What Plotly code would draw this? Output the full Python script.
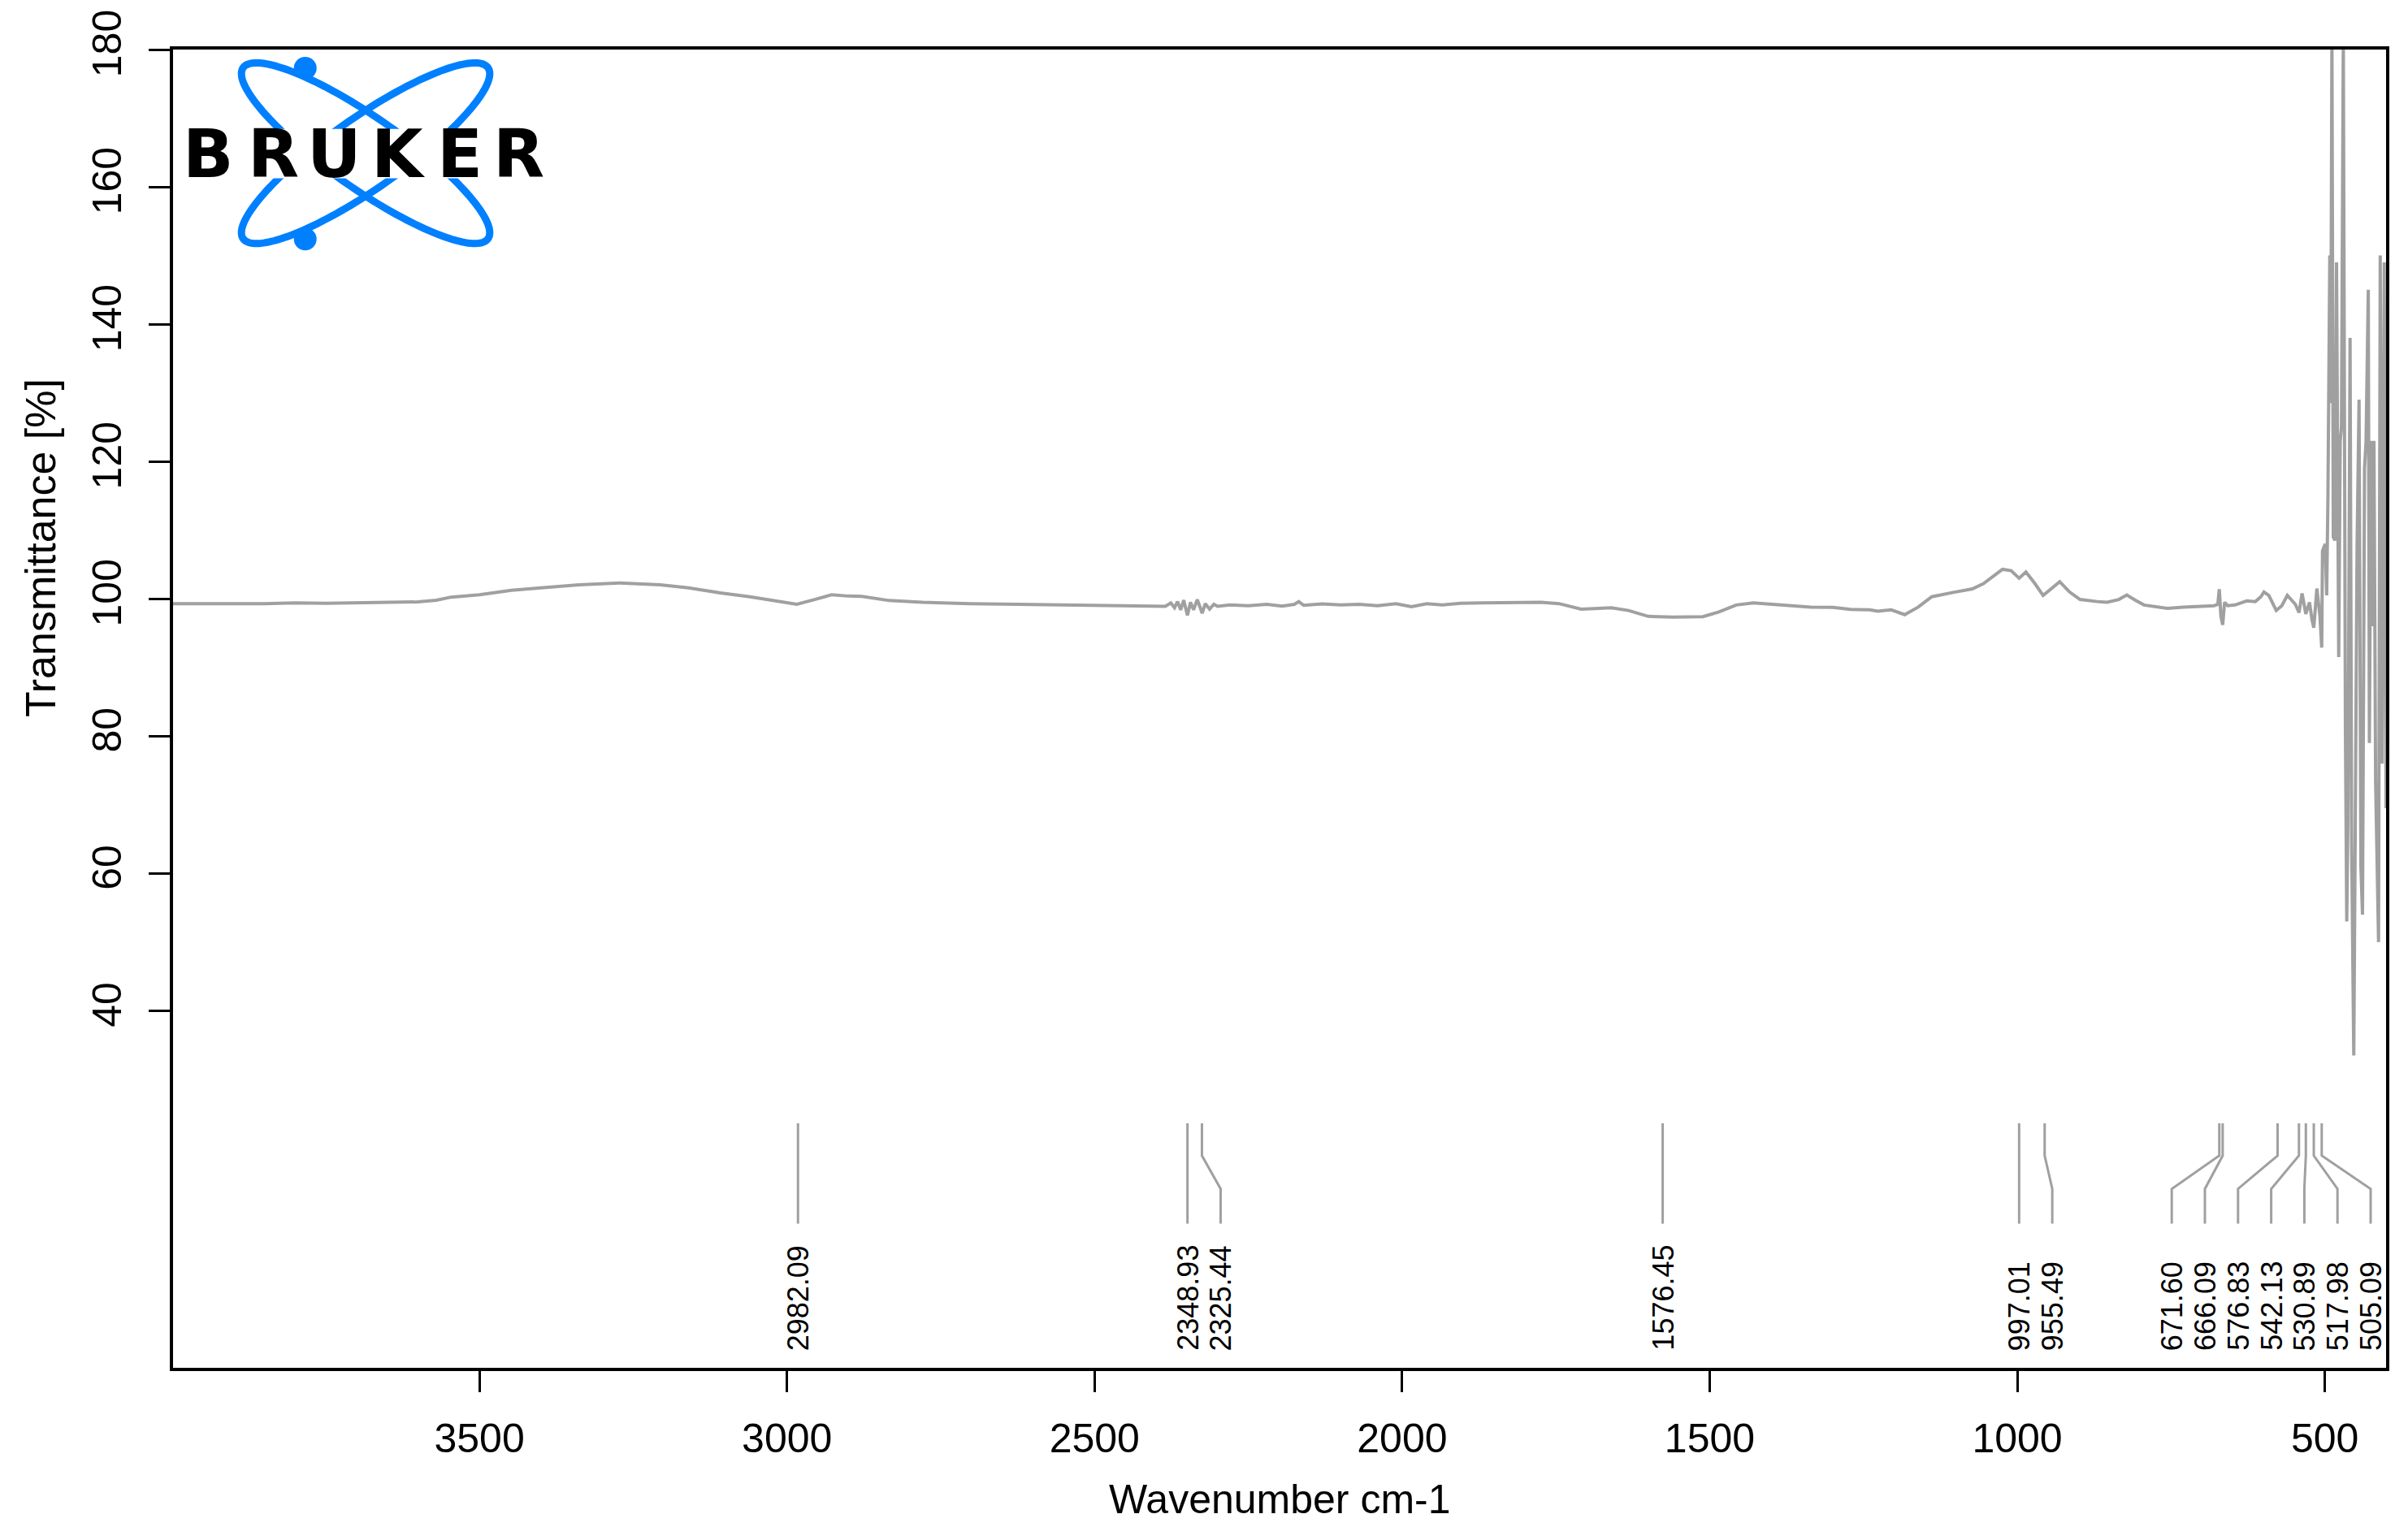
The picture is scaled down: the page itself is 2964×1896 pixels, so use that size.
import numpy as np
import plotly.graph_objects as go

# ---------------- data ----------------
wavenumber = [
    3998, 3950, 3900, 3850, 3800, 3750, 3700, 3650, 3600, 3570, 3546, 3500, 3448, 3400,
    3338, 3272, 3206, 3160, 3108, 3060, 3031, 2984, 2955, 2927, 2900, 2878, 2834, 2780,
    2703, 2600, 2484, 2400, 2385, 2376, 2370, 2365, 2360, 2355, 2349, 2344, 2339, 2333,
    2328, 2325, 2320, 2313, 2306, 2300, 2280, 2250, 2220, 2195, 2175, 2168, 2160, 2130,
    2100, 2070, 2040, 2010, 1985, 1960, 1935, 1905, 1870, 1840, 1800, 1774, 1745, 1709,
    1680, 1660, 1632, 1600, 1560, 1511, 1485, 1457, 1429, 1390, 1336, 1300, 1271, 1240,
    1227, 1205, 1195, 1183, 1161, 1139, 1106, 1073, 1055, 1040, 1024, 1010, 997, 986,
    972, 958, 945, 931, 915, 898, 870, 854, 835, 822, 808, 794, 756, 730, 701, 680,
    674, 671.6, 669, 666.1, 663, 658, 646, 627, 613, 604, 599, 591, 579, 570, 561, 552,
    548, 542, 537, 531, 525, 521, 518, 513, 508, 505.1, 503.8, 499.5, 497, 495, 492,
    490.5, 488.5, 486.3, 483.5, 481, 479.7, 477.5, 475, 473, 470, 468.5, 466.6, 464.4,
    462.5, 459, 456.4, 453, 451, 447.6, 444.4, 441.4, 438.8, 435.5, 433, 429.4, 427.6,
    425, 422.5, 420.2, 417.5, 415, 412.7, 410, 407, 403.4, 400.5,
]
transmittance = [
    99.3, 99.25, 99.3, 99.3, 99.4, 99.35, 99.4, 99.5, 99.55, 99.8, 100.25, 100.6, 101.25, 101.6,
    102.05, 102.3, 102.05, 101.6, 100.85, 100.3, 99.9, 99.2, 99.9, 100.6, 100.4, 100.35, 99.75, 99.5,
    99.3, 99.15, 99.05, 98.95, 98.9, 99.4, 98.7, 99.6, 98.4, 99.8, 97.6, 99.5, 98.4, 99.9,
    98.8, 97.9, 99.3, 98.5, 99.2, 98.9, 99.1, 99.0, 99.2, 98.95, 99.2, 99.6, 99.05, 99.25,
    99.1, 99.2, 99.0, 99.3, 98.85, 99.3, 99.1, 99.35, 99.4, 99.45, 99.5, 99.5, 99.3, 98.5,
    98.6, 98.7, 98.3, 97.45, 97.35, 97.4, 98.1, 99.1, 99.4, 99.1, 98.8, 98.75, 98.45, 98.4,
    98.2, 98.4, 98.1, 97.7, 98.8, 100.3, 100.9, 101.45, 102.2, 103.2, 104.3, 104.1, 103.0, 103.9,
    102.3, 100.5, 101.4, 102.5, 101.0, 99.9, 99.6, 99.5, 99.9, 100.55, 99.8, 99.1, 98.6, 98.8, 98.9, 99.0,
    99.2, 101.4, 97.5, 96.2, 99.5, 99.0, 99.1, 99.7, 99.6, 100.3, 101.0, 100.5, 98.3, 99.0, 100.5, 99.6,
    99.2, 98.0, 100.8, 97.8, 99.5, 97.0, 95.8, 101.5, 97.5, 92.9, 107.0, 108.0, 100.5, 115.0, 150.0,
    128.5, 182.0, 109.0, 108.5, 149.0, 125.0, 91.5, 123.0, 125.0, 182.0, 123.0, 81.0, 53.0,
    67.0, 138.0, 64.0, 33.5, 69.0, 108.0, 129.0, 61.0, 54.0, 119.0, 123.0, 145.0, 79.0,
    123.0, 96.0, 123.0, 73.5, 61.0, 50.0, 150.0, 76.0, 149.0, 69.5,
]
peak_wavenumbers = [2982.09, 2348.93, 2325.44, 1576.45, 997.01, 955.49, 671.60,
                    666.09, 576.83, 542.13, 530.89, 517.98, 505.09]
peak_labels = ["2982.09", "2348.93", "2325.44", "1576.45", "997.01", "955.49", "671.60",
               "666.09", "576.83", "542.13", "530.89", "517.98", "505.09"]
x_ticks = [3500, 3000, 2500, 2000, 1500, 1000, 500]
y_ticks = [40, 60, 80, 100, 120, 140, 160, 180]

# ---------------- geometry ----------------
W, H = 2964, 1896
ML, MR, MT, MB = 213, 27, 56, 212
PW, PH = W - ML - MR, H - MT - MB
X_RANGE = [3998, 400.5]
Y_RANGE = [-12, 180]


def wn_to_px(wn):
    return ML + (X_RANGE[0] - wn) / (X_RANGE[0] - X_RANGE[1]) * PW


def px_to_wn(px):
    return X_RANGE[0] - (px - ML) / PW * (X_RANGE[0] - X_RANGE[1])


def py_to_t(py):
    return Y_RANGE[1] - (py - MT) / PH * (Y_RANGE[1] - Y_RANGE[0])


def paper(px, py):
    return (px - ML) / PW, (H - MB - py) / PH


GRAY = "#A0A0A0"
FONT = "Liberation Sans, Arial, sans-serif"

fig = go.Figure()
fig.add_trace(go.Scatter(x=wavenumber, y=transmittance, mode="lines",
                         line=dict(color=GRAY, width=4), hoverinfo="skip",
                         showlegend=False))

# ---------------- peak labels (spread to avoid overlap) ----------------
gap = 40.8
right_limit = ML + PW - 19
order = sorted(range(len(peak_wavenumbers)), key=lambda i: wn_to_px(peak_wavenumbers[i]))
pk_px = [wn_to_px(peak_wavenumbers[i]) for i in order]
lab_px = []
for p in pk_px:
    lab_px.append(p if not lab_px else max(p, lab_px[-1] + gap))
lab_px[-1] = min(lab_px[-1], right_limit)
for k in range(len(lab_px) - 2, -1, -1):
    lab_px[k] = min(lab_px[k], lab_px[k + 1] - gap)

t_top, t_b1, t_b2, t_bot = py_to_t(1382), py_to_t(1422), py_to_t(1463), py_to_t(1506)
t_text = py_to_t(1665)
for k, i in enumerate(order):
    pw = peak_wavenumbers[i]
    lw = px_to_wn(lab_px[k])
    if abs(lab_px[k] - pk_px[k]) < 1.0:
        xs, ys = [pw, pw], [t_top, t_bot]
    else:
        xs, ys = [pw, pw, lw, lw], [t_top, t_b1, t_b2, t_bot]
    fig.add_trace(go.Scatter(x=xs, y=ys, mode="lines", line=dict(color=GRAY, width=3),
                             hoverinfo="skip", showlegend=False))
    fig.add_annotation(x=lw, y=t_text, xref="x", yref="y", text=peak_labels[i],
                       textangle=-90, showarrow=False, xanchor="center", yanchor="bottom",
                       font=dict(family=FONT, size=36, color="black"))

# ---------------- Bruker logo ----------------
BLUE = "#0080FF"
shapes = []
cx, cy, a, b = 450, 184, 184, 44
for ang in (35, -35):
    th = np.deg2rad(ang)
    t = np.linspace(0, 2 * np.pi, 160)
    ex = cx + a * np.cos(t) * np.cos(th) - b * np.sin(t) * np.sin(th)
    ey = cy + a * np.cos(t) * np.sin(th) + b * np.sin(t) * np.cos(th)
    pts = [paper(x, y) for x, y in zip(ex, ey)]
    path = "M " + " L ".join(f"{p[0]:.5f},{p[1]:.5f}" for p in pts) + " Z"
    shapes.append(dict(type="path", path=path, xref="paper", yref="paper",
                       line=dict(color=BLUE, width=9), fillcolor="rgba(0,0,0,0)", layer="above"))
for dy in (79, 290):
    x0, y0 = paper(375.7 - 14, dy - 14)
    x1, y1 = paper(375.7 + 14, dy + 14)
    shapes.append(dict(type="circle", xref="paper", yref="paper", x0=x0, y0=y1, x1=x1, y1=y0,
                       fillcolor=BLUE, line=dict(color=BLUE, width=0), layer="above"))
rx0, ry0 = paper(222, 154)
rx1, ry1 = paper(672, 215)
shapes.append(dict(type="rect", xref="paper", yref="paper", x0=rx0, y0=ry1, x1=rx1, y1=ry0,
                   fillcolor="white", line=dict(width=0), layer="above"))
letters = ["B", "R", "U", "K", "E", "R"]
letter_x = [256, 336, 411, 490, 566, 638]
for ch, lx in zip(letters, letter_x):
    px_, py_ = paper(lx, 185)
    fig.add_annotation(x=px_, y=py_, xref="paper", yref="paper", text=f"<b>{ch}</b>",
                       showarrow=False, xanchor="center", yanchor="middle",
                       font=dict(family="DejaVu Sans, sans-serif", size=82, color="black"))

# ---------------- axis titles ----------------
tx, ty = paper(50, 672)
fig.add_annotation(x=tx, y=ty, xref="paper", yref="paper", text="Transmittance [%]",
                   textangle=-90, showarrow=False, xanchor="center", yanchor="middle",
                   font=dict(family=FONT, size=52, color="black"))
tx, ty = paper(ML + PW / 2, 1846)
fig.add_annotation(x=tx, y=ty, xref="paper", yref="paper", text="Wavenumber cm-1",
                   showarrow=False, xanchor="center", yanchor="middle",
                   font=dict(family=FONT, size=50, color="black"))

axis_common = dict(showline=True, linewidth=4, linecolor="black", mirror=True,
                   ticks="outside", ticklen=26, tickwidth=2.5, tickcolor="black",
                   showgrid=False, zeroline=False,
                   tickfont=dict(family=FONT, size=50, color="black"))
fig.update_layout(
    width=W, height=H,
    margin=dict(l=ML, r=MR, t=MT, b=MB, pad=0),
    paper_bgcolor="white", plot_bgcolor="white",
    shapes=shapes,
    xaxis=dict(range=X_RANGE, tickvals=x_ticks, ticktext=[str(v) for v in x_ticks],
               ticklabelstandoff=14, **axis_common),
    yaxis=dict(range=Y_RANGE, tickvals=y_ticks, ticktext=[str(v) for v in y_ticks],
               tickangle=-90, ticklabelstandoff=14, **axis_common),
    showlegend=False,
)

fig.write_html("out.html", config={"displayModeBar": False},
               post_script="document.body.style.margin='0';")
